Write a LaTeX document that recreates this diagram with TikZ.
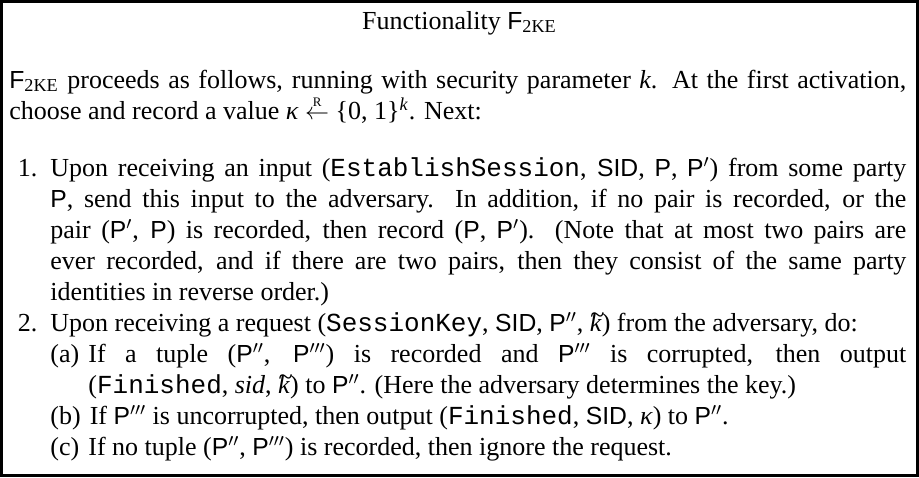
\documentclass[tikz,border=0pt]{standalone}
\usepackage{fontspec}
\setmainfont{Liberation Serif}
\setsansfont[Scale=0.95]{Liberation Sans}
\setmonofont{Liberation Mono}

% sans-serif party names and identifiers
\newcommand{\pty}{\textsf{P}}
\newcommand{\sidf}{\textsf{SID}}
% italic k carrying a tilde above its ascender
\newcommand{\kt}{\ooalign{\textit{k}\cr\hidewidth\kern0.12em\raisebox{0.28em}{\~{}}\hidewidth\cr}}
\newcommand{\Fke}{\textsf{F}\textsubscript{2KE}}
% random-sampling arrow
\newcommand{\sample}{$\stackrel{\textrm{\fontsize{6.5}{7}\selectfont R}}{\leftarrow}$}

\tikzset{
  frame/.style={draw=black, line width=1.4pt},
  titletext/.style={anchor=base, inner sep=0pt, font=\fontsize{13}{15.5}\selectfont},
  bodytext/.style={anchor=base west, inner sep=0pt, text width=448.5pt, align=justify,
                   font=\fontsize{13}{15.5}\selectfont}
}

\begin{document}
\begin{tikzpicture}[x=0.5pt,y=-0.5pt]
  \useasboundingbox (0,0) rectangle (919,477);
  \draw[frame] (1.4,1.4) rectangle (917.6,475.6);

  \node[titletext] (title) at (459.5,29) {Functionality \Fke};

  \node[bodytext] (body) at (9,88) {%
    \setlength{\parindent}{0pt}%
    \Fke{} proceeds as follows, running with security parameter \textit{k}. At the first activation,\linebreak
    choose and record a value \textit{κ} \sample{} \{0, 1\}\textsuperscript{\textit{k}}. Next:
    \begin{list}{\arabic{enumi}.}{\usecounter{enumi}%
        \setlength{\topsep}{13pt}\setlength{\partopsep}{0pt}%
        \setlength{\leftmargin}{20.5pt}\setlength{\labelsep}{0.5em}%
        \setlength{\labelwidth}{\leftmargin}\addtolength{\labelwidth}{-\labelsep}%
        \setlength{\itemsep}{0pt}\setlength{\parsep}{0pt}}
      \item Upon receiving an input (\texttt{EstablishSession}, \sidf, \pty, \pty$'$) from some party\linebreak
        \pty, send this input to the adversary. In addition, if no pair is recorded, or the\linebreak
        pair (\pty$'$, \pty) is recorded, then record (\pty, \pty$'$). (Note that at most two pairs are\linebreak
        ever recorded, and if there are two pairs, then they consist of the same party\linebreak
        identities in reverse order.)
      \item Upon receiving a request (\texttt{SessionKey}, \sidf, \pty$''$, \kt) from the adversary, do:
        \begin{list}{(\alph{enumii})}{\usecounter{enumii}%
            \setlength{\topsep}{0pt}\setlength{\partopsep}{0pt}%
            \setlength{\leftmargin}{19pt}\setlength{\labelsep}{0.35em}%
            \setlength{\labelwidth}{\leftmargin}\addtolength{\labelwidth}{-\labelsep}%
            \setlength{\itemsep}{0pt}\setlength{\parsep}{0pt}}
          \item If a tuple (\pty$''$, \pty$'''$) is recorded and \pty$'''$ is corrupted, then output\linebreak
            (\texttt{Finished}, \textit{sid}, \kt) to \pty$''$. (Here the adversary determines the key.)
          \item If \pty$'''$ is uncorrupted, then output (\texttt{Finished}, \sidf, \textit{κ}) to \pty$''$.
          \item If no tuple (\pty$''$, \pty$'''$) is recorded, then ignore the request.
        \end{list}
    \end{list}%
  };
\end{tikzpicture}
\end{document}
